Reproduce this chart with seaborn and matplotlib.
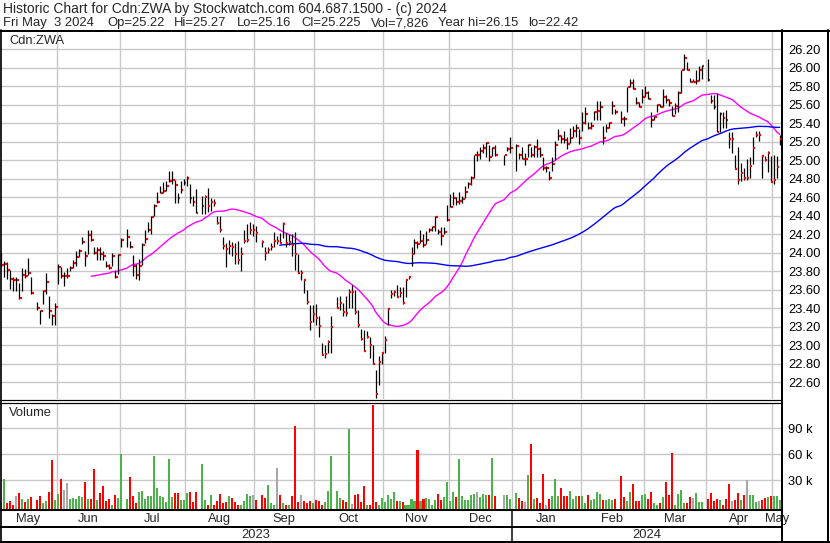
import numpy as np
import pandas as pd
import matplotlib
matplotlib.use("Agg")
import matplotlib.pyplot as plt
import matplotlib.transforms as mtransforms
import seaborn as sns

sns.set_style("white")
plt.rcParams["font.family"] = ["Liberation Sans", "DejaVu Sans"]

# ---------------- data ----------------
first_day = "2023-05-05"
last_day = "2024-05-03"
holidays = ["2023-05-22", "2023-07-03", "2023-08-07", "2023-09-04", "2023-10-09",
            "2023-12-25", "2023-12-26", "2024-01-01", "2024-02-19", "2024-03-29"]

close = [
    # May 2023
    23.87, 23.88, 23.81, 23.72, 23.70, 23.70, 23.51, 23.76, 23.75, 23.78, 23.56, 23.40, 23.37, 23.59, 23.68, 23.37, 23.32, 23.41,
    # Jun
    23.85, 23.75, 23.75, 23.75, 23.83, 23.89, 23.95, 24.02, 24.12, 23.96, 24.19, 24.14, 24.00, 24.03, 23.99, 23.96, 23.86, 23.83, 23.96, 23.74, 23.98, 24.14,
    # Jul
    24.17, 24.06, 23.86, 23.76, 23.86, 24.08, 24.15, 24.24, 24.39, 24.50, 24.55, 24.65, 24.67, 24.72, 24.78, 24.79, 24.73, 24.59, 24.68, 24.75,
    # Aug
    24.81, 24.59, 24.55, 24.43, 24.51, 24.60, 24.50, 24.55, 24.54, 24.32, 24.24, 24.07, 24.04, 24.07, 24.06, 23.99, 23.92, 23.99, 24.13, 24.14, 24.24, 24.24,
    # Sep
    24.21, 24.12, 24.00, 24.03, 24.06, 24.13, 24.13, 24.11, 24.31, 24.10, 24.12, 24.08, 23.99, 23.78, 23.78, 23.71, 23.47, 23.25, 23.34, 23.29,
    # Oct
    23.21, 22.89, 22.90, 23.03, 23.20, 23.40, 23.46, 23.36, 23.35, 23.57, 23.57, 23.36, 23.22, 23.07, 22.94, 23.09, 23.00, 22.80, 22.47, 22.82, 22.92,
    # Nov
    23.06, 23.39, 23.55, 23.58, 23.52, 23.56, 23.46, 23.71, 23.74, 23.99, 24.10, 24.09, 24.13, 24.08, 24.14, 24.25, 24.28, 24.39, 24.22, 24.18, 24.22, 24.35,
    # Dec
    24.49, 24.59, 24.55, 24.56, 24.58, 24.66, 24.74, 24.81, 25.06, 25.06, 25.10, 25.13, 25.19, 25.03, 25.13, 25.06, 25.06, 25.12, 25.13,
    # Jan 2024
    25.15, 25.06, 25.01, 25.01, 25.16, 25.06, 25.14, 25.12, 25.06, 24.92, 24.92, 24.81, 24.96, 25.16, 25.26, 25.23, 25.22, 25.18, 25.24, 25.32, 25.35, 25.24,
    # Feb
    25.40, 25.50, 25.35, 25.37, 25.52, 25.53, 25.58, 25.24, 25.35, 25.40, 25.59, 25.52, 25.45, 25.44, 25.79, 25.83, 25.77, 25.62, 25.58, 25.68,
    # Mar
    25.73, 25.66, 25.43, 25.47, 25.60, 25.57, 25.68, 25.65, 25.62, 25.48, 25.59, 25.73, 25.97, 26.11, 25.98, 25.85, 25.85, 25.86, 25.97, 26.02,
    # Apr
    25.87, 25.64, 25.57, 25.30, 25.50, 25.46, 25.43, 25.23, 25.23, 24.90, 24.79, 24.86, 24.81, 24.81, 24.94, 25.13, 25.27, 25.27, 25.05, 25.00, 25.08, 24.76,
    # May
    24.79, 24.93, 25.225,
]

high = [
    24.00, 23.91, 23.90, 23.81, 23.74, 23.74, 23.67, 23.83, 23.82, 23.94, 23.74, 23.47, 23.38, 23.60, 23.78, 23.53, 23.34, 23.46,
    23.88, 23.85, 23.79, 23.83, 23.86, 23.92, 24.02, 24.04, 24.17, 24.02, 24.25, 24.24, 24.06, 24.06, 24.06, 24.02, 23.91, 23.88, 24.00, 23.81, 23.99, 24.16,
    24.26, 24.13, 23.98, 23.88, 23.93, 24.10, 24.25, 24.33, 24.40, 24.53, 24.66, 24.72, 24.76, 24.77, 24.88, 24.88, 24.79, 24.65, 24.77, 24.80,
    24.83, 24.74, 24.61, 24.69, 24.61, 24.62, 24.70, 24.59, 24.58, 24.40, 24.40, 24.17, 24.10, 24.14, 24.12, 24.10, 24.13, 24.06, 24.24, 24.31, 24.33, 24.31,
    24.29, 24.14, 24.06, 24.06, 24.10, 24.22, 24.18, 24.21, 24.33, 24.21, 24.20, 24.20, 24.22, 23.99, 23.81, 23.72, 23.60, 23.43, 23.43, 23.45,
    23.31, 23.02, 23.00, 23.06, 23.31, 23.52, 23.53, 23.46, 23.53, 23.61, 23.65, 23.60, 23.38, 23.18, 23.16, 23.15, 23.09, 23.00, 22.73, 22.88, 22.93,
    23.10, 23.40, 23.60, 23.60, 23.65, 23.63, 23.63, 23.72, 23.75, 24.06, 24.15, 24.13, 24.24, 24.20, 24.23, 24.27, 24.29, 24.40, 24.26, 24.28, 24.28, 24.52,
    24.63, 24.66, 24.60, 24.66, 24.61, 24.72, 24.76, 24.83, 25.06, 25.10, 25.14, 25.18, 25.20, 25.16, 25.14, 25.16, 25.06, 25.14, 25.25,
    25.17, 25.08, 25.14, 25.08, 25.18, 25.14, 25.16, 25.23, 25.14, 25.03, 24.94, 24.88, 25.03, 25.21, 25.34, 25.27, 25.32, 25.25, 25.35, 25.37, 25.39, 25.34,
    25.52, 25.57, 25.41, 25.41, 25.53, 25.64, 25.64, 25.37, 25.39, 25.41, 25.64, 25.55, 25.53, 25.48, 25.79, 25.88, 25.88, 25.68, 25.63, 25.77,
    25.80, 25.75, 25.52, 25.48, 25.61, 25.61, 25.77, 25.70, 25.66, 25.59, 25.62, 25.75, 25.98, 26.15, 26.06, 25.89, 25.88, 25.97, 26.02, 26.03,
    26.09, 25.70, 25.71, 25.73, 25.52, 25.52, 25.54, 25.30, 25.30, 25.06, 25.14, 24.97, 24.92, 25.01, 25.03, 25.25, 25.32, 25.32, 25.06, 25.04, 25.10, 25.05,
    25.06, 25.05, 25.27,
]

low = [
    23.84, 23.74, 23.72, 23.61, 23.59, 23.59, 23.50, 23.59, 23.73, 23.76, 23.55, 23.38, 23.23, 23.45, 23.55, 23.29, 23.22, 23.22,
    23.66, 23.73, 23.64, 23.73, 23.80, 23.83, 23.86, 23.95, 24.09, 23.86, 23.99, 24.13, 23.99, 23.92, 23.92, 23.92, 23.84, 23.82, 23.86, 23.73, 23.77, 24.06,
    24.06, 24.05, 23.75, 23.72, 23.70, 23.87, 24.10, 24.22, 24.20, 24.40, 24.54, 24.64, 24.65, 24.67, 24.76, 24.74, 24.54, 24.54, 24.65, 24.73,
    24.72, 24.54, 24.50, 24.43, 24.42, 24.42, 24.44, 24.45, 24.50, 24.31, 24.22, 24.04, 23.85, 23.99, 23.96, 23.88, 23.88, 23.80, 24.11, 24.12, 24.20, 24.18,
    24.12, 24.06, 23.92, 24.00, 24.03, 24.06, 24.09, 24.10, 24.16, 24.06, 24.08, 23.96, 23.81, 23.78, 23.71, 23.56, 23.45, 23.16, 23.25, 23.22,
    23.09, 22.89, 22.86, 22.91, 22.91, 23.40, 23.38, 23.32, 23.31, 23.40, 23.40, 23.34, 23.20, 23.06, 22.94, 23.08, 22.86, 22.80, 22.43, 22.57, 22.80,
    22.91, 23.22, 23.51, 23.53, 23.52, 23.52, 23.45, 23.52, 23.72, 23.86, 23.99, 24.05, 24.11, 24.06, 24.09, 24.22, 24.23, 24.23, 24.20, 24.08, 24.20, 24.34,
    24.49, 24.52, 24.52, 24.53, 24.54, 24.59, 24.70, 24.73, 24.81, 24.99, 25.01, 25.08, 25.03, 24.99, 25.04, 25.04, 24.95, 25.10, 25.08,
    24.88, 25.01, 25.01, 24.95, 25.03, 25.03, 25.03, 25.03, 25.03, 24.89, 24.87, 24.79, 24.88, 25.00, 25.22, 25.19, 25.19, 25.12, 25.19, 25.25, 25.25, 25.17,
    25.32, 25.39, 25.34, 25.34, 25.43, 25.43, 25.43, 25.17, 25.30, 25.35, 25.50, 25.50, 25.40, 25.37, 25.52, 25.79, 25.77, 25.61, 25.57, 25.62,
    25.68, 25.66, 25.36, 25.43, 25.52, 25.57, 25.57, 25.62, 25.59, 25.48, 25.50, 25.52, 25.73, 25.98, 25.97, 25.85, 25.84, 25.82, 25.86, 25.88,
    25.86, 25.62, 25.55, 25.30, 25.30, 25.35, 25.35, 25.13, 25.08, 24.90, 24.74, 24.78, 24.79, 24.79, 24.81, 24.96, 25.25, 25.21, 24.81, 24.99, 24.87, 24.76,
    24.74, 24.81, 25.16,
]

volume_k = [
    5, 31, 4, 6, 2, 12, 15, 8, 5, 9, 11, 7, 12, 4, 6, 16, 54, 7,
    14, 32, 19, 27, 9, 10, 8, 12, 11, 28, 8, 9, 43, 7, 15, 23, 6, 8, 2, 13, 10, 60,
    9, 34, 12, 4, 16, 18, 9, 12, 12, 58, 21, 12, 11, 5, 55, 11, 15, 15, 7, 7,
    15, 16, 5, 16, 49, 7, 2, 13, 2, 6, 14, 4, 5, 12, 10, 5, 1, 2, 6, 14, 12, 13,
    7, 13, 10, 25, 4, 2, 44, 13, 4, 2, 2, 12, 93, 5, 13, 6, 4, 6, 4, 7,
    6, 1, 5, 18, 58, 18, 10, 7, 5, 89, 3, 13, 14, 5, 24, 2, 1, 117, 5, 2, 10,
    5, 13, 8, 16, 6, 6, 5, 1, 1, 8, 6, 65, 6, 8, 10, 8, 1, 7, 14, 7, 11, 28,
    6, 16, 11, 55, 12, 7, 7, 13, 14, 17, 11, 14, 13, 13, 56, 12, 13, 13, 8,
    15, 10, 6, 5, 36, 72, 8, 10, 4, 37, 2, 8, 12, 32, 12, 21, 12, 12, 18, 8, 12, 12,
    12, 4, 13, 7, 8, 16, 14, 7, 7, 8, 7, 8, 35, 11, 6, 17, 26, 6, 6, 13,
    14, 8, 16, 4, 2, 4, 11, 28, 13, 61, 2, 14, 19, 4, 4, 11, 10, 15, 5, 5,
    9, 15, 6, 9, 7, 2, 8, 26, 6, 7, 15, 7, 13, 30, 13, 13, 5, 6, 7, 10, 11, 12,
    12, 12, 7.826,
]

month_labels = ["May", "Jun", "Jul", "Aug", "Sep", "Oct", "Nov", "Dec",
                "Jan", "Feb", "Mar", "Apr", "May"]
year_labels = ["2023", "2024"]
price_ticks = [22.6, 22.8, 23.0, 23.2, 23.4, 23.6, 23.8, 24.0, 24.2, 24.4, 24.6,
               24.8, 25.0, 25.2, 25.4, 25.6, 25.8, 26.0, 26.2]
volume_ticks = [30, 60, 90]
header1 = "Historic Chart for Cdn:ZWA by Stockwatch.com 604.687.1500 - (c) 2024"
header2_parts = ["Fri May  3 2024", "Op=25.22", "Hi=25.27", "Lo=25.16",
                 "Cl=25.225", "Vol=7,826", "Year hi=26.15", "lo=22.42"]

# ---------------- layout helpers ----------------
W, H = 830, 543
fig = plt.figure(figsize=(W / 100, H / 100), dpi=100)
fig.patch.set_facecolor("white")


def frac_box(x0, y0, x1, y1):
    return [x0 / W, 1 - y1 / H, (x1 - x0) / W, (y1 - y0) / H]


PLOT_R = 781
axp = fig.add_axes(frac_box(0, 32, PLOT_R, 399))
axv = fig.add_axes(frac_box(0, 403, PLOT_R, 509))

weekdays = pd.bdate_range(first_day, last_day)
hol = pd.to_datetime(holidays)
tdates = weekdays[~weekdays.isin(hol)]
assert len(tdates) == len(close) == len(high) == len(low) == len(volume_k)
slot = weekdays.get_indexer(tdates).astype(float)

df = pd.DataFrame({"slot": slot, "close": close, "high": high, "low": low,
                   "vol": volume_k})
df["ma30"] = df["close"].rolling(30).mean()
df["ma90"] = df["close"].rolling(90).mean()
d = df["close"].diff()
df["vcol"] = np.where(d > 0, "#4cb34c", np.where(d < 0, "#ff0000", "#a8a8a8"))
df.loc[0, "vcol"] = "#a8a8a8"

# month boundaries (grid positions)
month_starts = []
for per in pd.period_range("2023-06", "2024-05", freq="M"):
    first = per.start_time
    idx = weekdays.searchsorted(first)
    g = idx - 0.5 - (1.0 if first.weekday() >= 5 else 0.0)
    month_starts.append(g)

XL = (-0.43, 260.4)
GRID = "#c8c8c8"
FS = 9.3

for ax in (axp, axv):
    ax.set_xlim(*XL)
    ax.set_facecolor("white")
    for s in ax.spines.values():
        s.set_visible(False)
    ax.set_xticks(month_starts)
    ax.set_xticklabels([])
    ax.grid(True, color=GRID, lw=1.0)
    ax.set_axisbelow(True)
    ax.tick_params(axis="both", length=0)
    ax.yaxis.tick_right()
    ax.tick_params(axis="y", labelright=True, labelleft=False, pad=5,
                   labelsize=FS, labelcolor="black")

# ---------------- price panel ----------------
axp.set_ylim(22.418, 26.386)
axp.set_yticks(price_ticks)
axp.set_yticklabels([f"{v:.2f}" for v in price_ticks])

sns.lineplot(data=df, x="slot", y="ma30", color="#ff00ff", lw=1.0, ax=axp,
             zorder=2)
sns.lineplot(data=df, x="slot", y="ma90", color="#0000ff", lw=1.0, ax=axp,
             zorder=2)
axp.vlines(df["slot"], df["low"], df["high"], color="black", lw=0.9, zorder=3)
axp.hlines(df["close"], df["slot"] + 0.2, df["slot"] + 0.85, color="#ff0000",
           lw=1.6, zorder=4)
axp.set_xlabel("")
axp.set_ylabel("")
axp.text(9 / PLOT_R, 1 - (41.5 - 32) / (399 - 32), "Cdn:ZWA",
         transform=axp.transAxes, fontsize=FS, va="center", ha="left")

# ---------------- volume panel ----------------
V0 = -3.1
axv.set_ylim(V0, 119.2)
axv.set_yticks(volume_ticks)
axv.set_yticklabels([f"{v} k" for v in volume_ticks])
axv.bar(df["slot"], df["vol"] - V0, bottom=V0, width=0.68, color=df["vcol"],
        linewidth=0, zorder=3)
axv.text(9 / PLOT_R, 1 - (413 - 403) / (509 - 403), "Volume",
         transform=axv.transAxes, fontsize=FS, va="center", ha="left")

# ---------------- month / year labels ----------------
tr = mtransforms.blended_transform_factory(axv.transData, fig.transFigure)
edges = [XL[0]] + month_starts + [XL[1]]
for i, lab in enumerate(month_labels):
    xm = (edges[i] + edges[i + 1]) / 2
    fig.text(xm, 1 - 519 / H, lab, transform=tr, ha="center", va="center",
             fontsize=FS)
jan = month_starts[7]
for lab, (a, b) in zip(year_labels, [(XL[0], jan), (jan, XL[1])]):
    fig.text((a + b) / 2, 1 - 535 / H, lab, transform=tr, ha="center",
             va="center", fontsize=FS)

# ---------------- frame & header (pixel overlay) ----------------
ov = fig.add_axes([0, 0, 1, 1], zorder=10)
ov.set_xlim(0, W)
ov.set_ylim(H, 0)
ov.axis("off")
ov.patch.set_alpha(0)
px = 0.72
jan_px = axv.transData.transform((jan, 0))[0]
ov.plot([0, W], [30.5, 30.5], color="black", lw=2 * px)
ov.plot([0.8, 0.8], [30, 542], color="black", lw=1.7 * px)
ov.plot([PLOT_R + 0.5, PLOT_R + 0.5], [30, 542], color="black", lw=2 * px)
ov.plot([827.7, 827.7], [30, 542], color="black", lw=2 * px)
ov.plot([0, PLOT_R], [400.3, 400.3], color="black", lw=1.2 * px)
ov.plot([0, PLOT_R], [402.5, 402.5], color="black", lw=1.2 * px)
ov.plot([0, PLOT_R], [510, 510], color="black", lw=2 * px)
ov.plot([0, PLOT_R], [527, 527], color="black", lw=2 * px)
ov.plot([0, W], [541.5, 541.5], color="black", lw=2 * px)
ov.plot([jan_px, jan_px], [510, 542], color="black", lw=1.5 * px)

ov.text(3, 9, header1, fontsize=10.0, va="center", ha="left")
for txt, x in zip(header2_parts, [3, 107, 174, 237, 301, 371, 438, 528]):
    ov.text(x, 23, txt, fontsize=9.4, va="center", ha="left")

fig.savefig("out.png", dpi=100, facecolor="white")
